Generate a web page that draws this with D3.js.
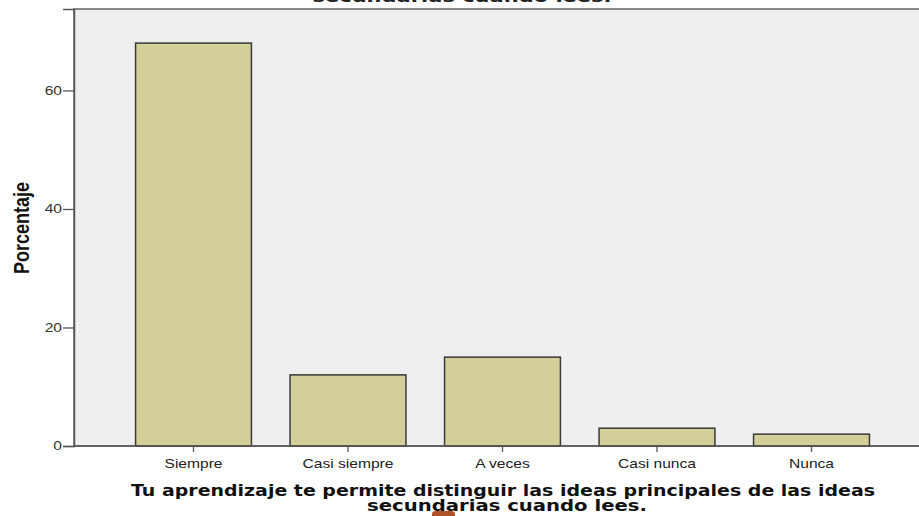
<!DOCTYPE html>
<html><head><meta charset="utf-8">
<script src="https://cdn.jsdelivr.net/npm/d3@7"></script>
<style>
html,body{margin:0;padding:0;background:#fff;overflow:hidden;}
svg{display:block;}
</style></head>
<body>
<svg id="chart" width="919" height="516"></svg>
<script>
const categories = ["Siempre", "Casi siempre", "A veces", "Casi nunca", "Nunca"];
const percentages = [68, 12, 15, 3, 2];
const yTicks = [0, 20, 40, 60];
const yLabel = "Porcentaje";
const xTitleLines = ["Tu aprendizaje te permite distinguir las ideas principales de las ideas", "secundarias cuando lees."];
const topTitle = "secundarias cuando lees.";

const svg = d3.select("#chart");
const plot = {left: 74, top: 9, right: 930, bottom: 446};
const stretch = 1.3;

const x = d3.scaleBand().domain(categories).range([116.25, 888.75]).paddingInner(0.25).paddingOuter(0.125);
const y = d3.scaleLinear().domain([0, 73.75]).range([plot.bottom, plot.top]);

// top (clipped) title
svg.append("text").attr("x", 462).attr("y", 1.5).attr("text-anchor", "middle")
  .attr("font-family", "DejaVu Sans").attr("font-weight", "bold").attr("font-size", 16)
  .attr("textLength", 299).attr("lengthAdjust", "spacingAndGlyphs")
  .attr("fill", "#222").text(topTitle);

// plot background
svg.append("rect").attr("x", plot.left).attr("y", plot.top)
  .attr("width", plot.right - plot.left).attr("height", plot.bottom - plot.top)
  .attr("fill", "#efefef").attr("stroke", "#666").attr("stroke-width", 1.5);

// bars
svg.append("g").selectAll("rect").data(percentages).join("rect")
  .attr("x", (d, i) => x(categories[i]))
  .attr("y", d => y(d))
  .attr("width", x.bandwidth())
  .attr("height", d => y(0) - y(d))
  .attr("fill", "#d3cf98").attr("stroke", "#3a3a3a").attr("stroke-width", 1.5);

// y axis
const yAxis = svg.append("g").attr("transform", `translate(${plot.left},0)`)
  .call(d3.axisLeft(y).tickValues(yTicks).tickSize(11).tickPadding(3));
yAxis.select(".domain").attr("stroke", "#555").attr("stroke-width", 1.5);
yAxis.selectAll(".tick line").attr("stroke", "#555").attr("stroke-width", 1.3);
yAxis.selectAll(".tick text").attr("x", 0).attr("transform", `translate(-12,0) scale(${stretch},1)`)
  .attr("font-family", "Liberation Sans, Arial, sans-serif").attr("font-size", 12).attr("fill", "#333");

// x axis
const xAxis = svg.append("g").attr("transform", `translate(0,${plot.bottom})`)
  .call(d3.axisBottom(x).tickSize(6).tickPadding(7.5).tickSizeOuter(0));
xAxis.select(".domain").attr("d", `M${plot.left},0H${plot.right}`).attr("stroke", "#555").attr("stroke-width", 1.5);
xAxis.selectAll(".tick line").attr("stroke", "#555").attr("stroke-width", 1.3);
xAxis.selectAll(".tick text").attr("transform", `scale(${stretch},1)`)
  .attr("font-family", "Liberation Sans, Arial, sans-serif").attr("font-size", 12).attr("fill", "#222");

// y label
svg.append("text").attr("transform", "translate(29,228) scale(1.25,1) rotate(-90)").attr("text-anchor", "middle")
  .attr("font-family", "Liberation Sans Narrow, Arial Narrow, sans-serif").attr("font-weight", "bold")
  .attr("font-size", 18).attr("fill", "#111").text(yLabel);

// x title
const titleWidths = [744, 280];
const titleCenters = [503, 507];
svg.append("g").selectAll("text").data(xTitleLines).join("text")
  .attr("x", (d, i) => titleCenters[i]).attr("y", (d, i) => 496 + i * 15).attr("text-anchor", "middle")
  .attr("font-family", "DejaVu Sans").attr("font-weight", "bold").attr("font-size", 16)
  .attr("textLength", (d, i) => titleWidths[i]).attr("lengthAdjust", "spacingAndGlyphs")
  .attr("fill", "#111").text(d => d);

// small orange marker at bottom
svg.append("path").attr("d", "M432,516 L432,514 Q432,511 436,511 L451,511 Q455,511 455,514 L455,516 Z")
  .attr("fill", "#b0532b");
</script>
</body></html>
